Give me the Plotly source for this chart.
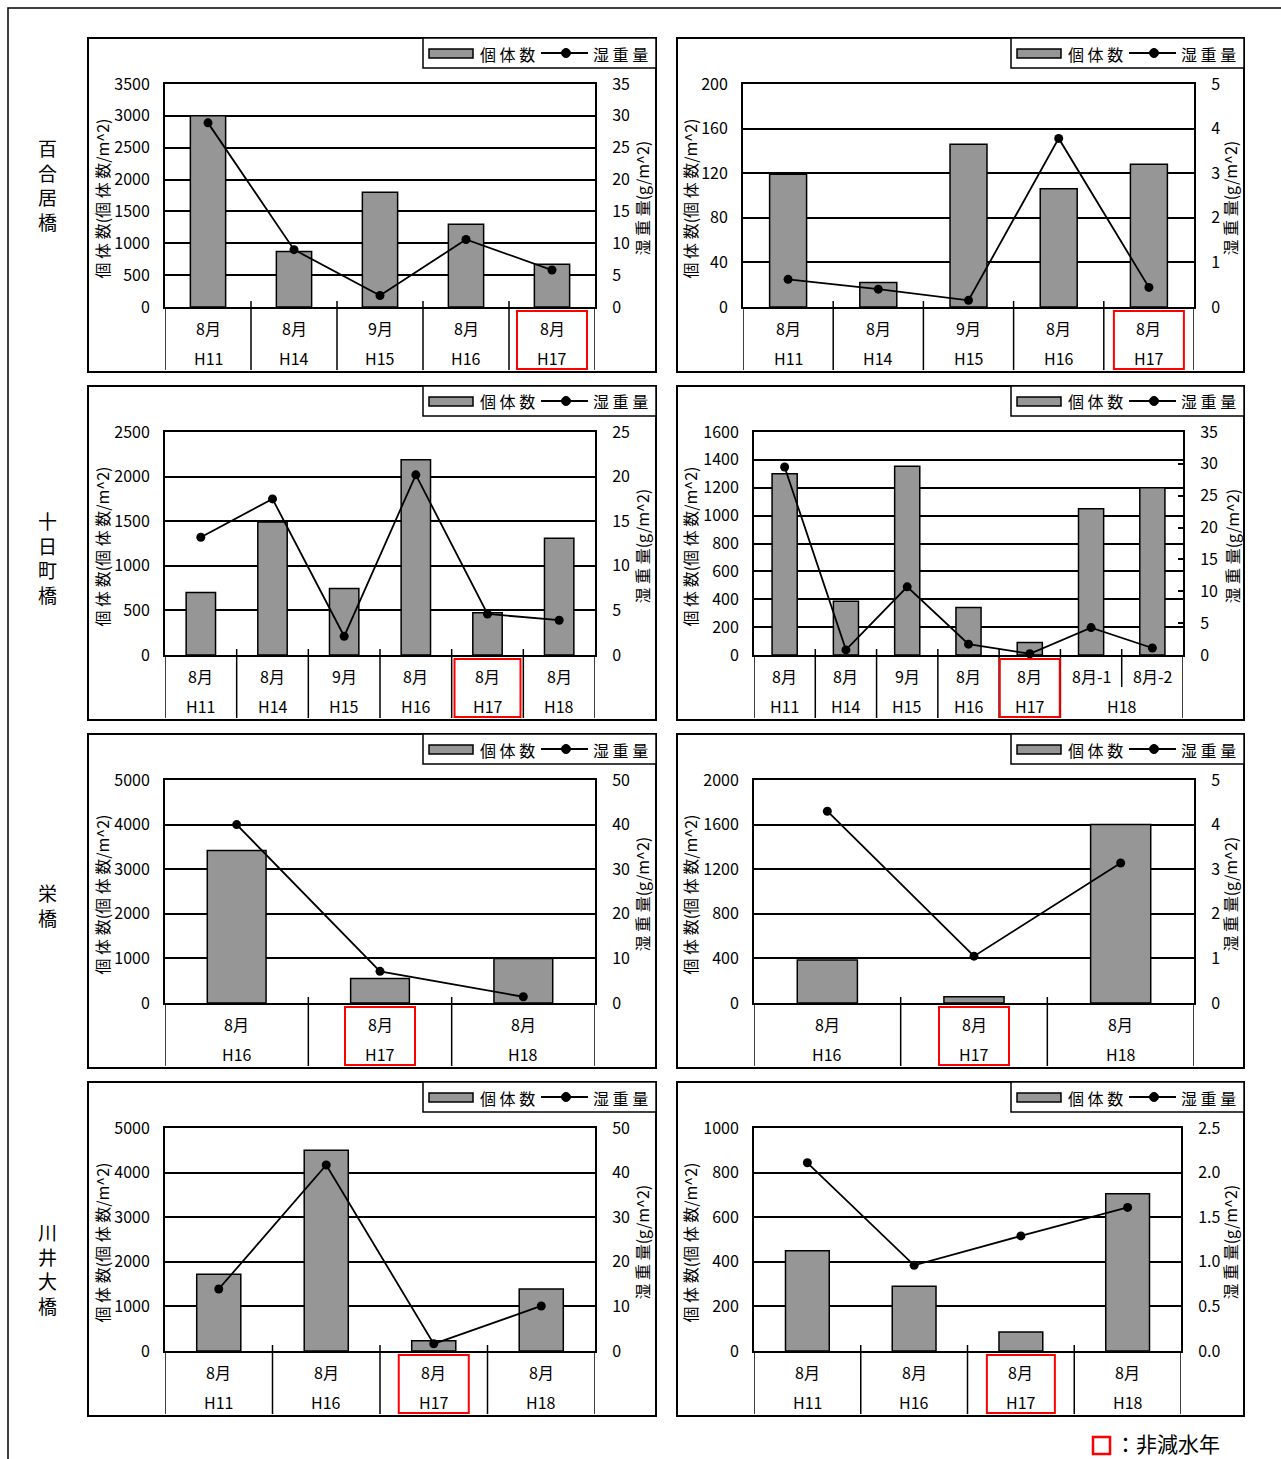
import plotly.graph_objects as go

# ---------------- data ----------------
stations = ["百合居橋", "十日町橋", "栄橋", "川井大橋"]
non_drawdown_year = "H17"

# 百合居橋 (left / right)
p1_months = ["8月", "8月", "9月", "8月", "8月"]
p1_years = ["H11", "H14", "H15", "H16", "H17"]
p1_count = [3000, 870, 1800, 1300, 670]
p1_wet = [28.9, 9.0, 1.8, 10.6, 5.8]

p2_months = ["8月", "8月", "9月", "8月", "8月"]
p2_years = ["H11", "H14", "H15", "H16", "H17"]
p2_count = [119, 22, 146, 106, 128]
p2_wet = [0.62, 0.40, 0.15, 3.78, 0.44]

# 十日町橋
p3_months = ["8月", "8月", "9月", "8月", "8月", "8月"]
p3_years = ["H11", "H14", "H15", "H16", "H17", "H18"]
p3_count = [700, 1490, 745, 2190, 475, 1310]
p3_wet = [13.2, 17.5, 2.1, 20.2, 4.6, 3.9]

p4_months = ["8月", "8月", "9月", "8月", "8月", "8月-1", "8月-2"]
p4_years = ["H11", "H14", "H15", "H16", "H17", "H18", "H18"]
p4_count = [1300, 385, 1355, 340, 90, 1050, 1200]
p4_wet = [29.5, 0.8, 10.7, 1.7, 0.2, 4.3, 1.1]

# 栄橋
p5_months = ["8月", "8月", "8月"]
p5_years = ["H16", "H17", "H18"]
p5_count = [3420, 550, 1000]
p5_wet = [40.0, 7.1, 1.4]

p6_months = ["8月", "8月", "8月"]
p6_years = ["H16", "H17", "H18"]
p6_count = [385, 55, 1600]
p6_wet = [4.30, 1.05, 3.14]

# 川井大橋
p7_months = ["8月", "8月", "8月", "8月"]
p7_years = ["H11", "H16", "H17", "H18"]
p7_count = [1720, 4500, 230, 1390]
p7_wet = [13.9, 41.7, 1.6, 10.1]

p8_months = ["8月", "8月", "8月", "8月"]
p8_years = ["H11", "H16", "H17", "H18"]
p8_count = [450, 290, 85, 705]
p8_wet = [2.11, 0.96, 1.29, 1.61]

# axis maxima and steps: (個体数 axis, 湿重量 axis)
count_scales = [(3500, 500), (200, 40), (2500, 500), (1600, 200),
                (5000, 1000), (2000, 400), (5000, 1000), (1000, 200)]
wet_scales = [(35, 5), (5, 1), (25, 5), (35, 5),
              (50, 10), (5, 1), (50, 10), (2.5, 0.5)]

legend_count = "個 体 数"
legend_wet = "湿 重 量"
title_count = "個 体 数(個 体 数/m^2)"
title_wet = "湿 重 量(g/m^2)"
footnote = "：非減水年"

# ---------------- layout geometry (pixels) ----------------
W, H = 1281, 1459
FONT = "Noto Sans CJK JP"
BAR_GRAY = "#969696"


def px(x):
    return x / W


def py(y):
    return 1 - y / H


panels = [
    (p1_months, p1_years, p1_count, p1_wet),
    (p2_months, p2_years, p2_count, p2_wet),
    (p3_months, p3_years, p3_count, p3_wet),
    (p4_months, p4_years, p4_count, p4_wet),
    (p5_months, p5_years, p5_count, p5_wet),
    (p6_months, p6_years, p6_count, p6_wet),
    (p7_months, p7_years, p7_count, p7_wet),
    (p8_months, p8_years, p8_count, p8_wet),
]

# plot-area x extents per panel
plot_x = [(165, 595), (743, 1194), (165, 595), (754, 1183),
          (165, 595), (754, 1194), (165, 595), (754, 1181)]
box_x = [(88, 656), (677, 1244)]
left_title_x = [101, 689]
right_title_x = [641, 1229, 641, 1231, 641, 1229, 641, 1229]
red_half = [35, 35, 33, 30, 35, 35, 35, 34]
ROW_STEP = 348
station_center_y = [185, 558, 905, 1268]

fig = go.Figure()
shapes = []
annotations = []

# outer frame
shapes.append(dict(type="rect", xref="paper", yref="paper",
                   x0=px(8), x1=px(1300), y0=py(8), y1=py(1480),
                   line=dict(color="black", width=1.5), layer="below"))

for k, (months, years, count, wet) in enumerate(panels):
    r, c = divmod(k, 2)
    n = len(months)
    xn = "x" if k == 0 else f"x{k + 1}"
    yl = f"y{2 * k + 1}" if k > 0 else "y"
    yr = f"y{2 * k + 2}"
    xkey = "xaxis" if k == 0 else f"xaxis{k + 1}"
    ylkey = "yaxis" if k == 0 else f"yaxis{2 * k + 1}"
    yrkey = f"yaxis{2 * k + 2}"

    top = 84 + ROW_STEP * r
    base = 307 + ROW_STEP * r
    btop = 38 + ROW_STEP * r
    bbot = 372 + ROW_STEP * r
    x0, x1 = plot_x[k]
    bx0, bx1 = box_x[c]
    cats = [f"{m} {y}" for m, y in zip(months, years)]

    fig.add_trace(go.Bar(x=cats, y=count, xaxis=xn, yaxis=yl,
                         marker=dict(color=BAR_GRAY,
                                     line=dict(color="black", width=1.5)),
                         name="個体数", showlegend=False))
    fig.add_trace(go.Scatter(x=cats, y=wet, xaxis=xn, yaxis=yr,
                             mode="lines+markers", cliponaxis=False,
                             line=dict(color="black", width=1.8),
                             marker=dict(color="black", size=9),
                             name="湿重量", showlegend=False))

    cmax, cstep = count_scales[k]
    wmax, wstep = wet_scales[k]
    tickfont = dict(family=FONT, size=16, color="black")

    fig.layout[xkey] = dict(domain=[px(x0), px(x1)], anchor=yl,
                            type="category", range=[-0.5, n - 0.5],
                            showticklabels=False, ticks="", showgrid=False,
                            showline=True, linecolor="black", linewidth=2,
                            mirror=True, zeroline=False, fixedrange=True)
    fig.layout[ylkey] = dict(domain=[py(base), py(top)], anchor=xn,
                             range=[0, cmax], tick0=0, dtick=cstep,
                             showgrid=True, gridcolor="black", gridwidth=1.5,
                             showline=True, linecolor="black", linewidth=2,
                             zeroline=False, ticks="", ticklabelstandoff=10,
                             tickfont=tickfont, fixedrange=True)
    fig.layout[yrkey] = dict(overlaying=yl, side="right", anchor=xn,
                             range=[0, wmax], tick0=0, dtick=wstep,
                             tickformat=".1f" if wstep < 1 else "d",
                             showgrid=False, showline=True, linecolor="black",
                             linewidth=2, zeroline=False, ticks="inside",
                             ticklen=5, tickwidth=1.5, tickcolor="black",
                             ticklabelstandoff=12, tickfont=tickfont,
                             fixedrange=True)

    # panel frame
    shapes.append(dict(type="rect", xref="paper", yref="paper",
                       x0=px(bx0), x1=px(bx1), y0=py(btop), y1=py(bbot),
                       line=dict(color="black", width=2)))

    # category table: separators and two-row labels
    for i in range(n + 1):
        same_year = 0 < i < n and years[i - 1] == years[i]
        y_end = base + 32 if same_year else bbot - 2
        y_start = base if i in (0, n) else base - 6
        shapes.append(dict(type="line", xref=xn, yref="paper",
                           x0=i - 0.5, x1=i - 0.5, y0=py(y_start), y1=py(y_end),
                           line=dict(color="black", width=1.5)))
    for i, m in enumerate(months):
        annotations.append(dict(xref=xn, yref="paper", x=i, y=py(base + 21),
                                text=m, showarrow=False, xanchor="center",
                                yanchor="middle",
                                font=dict(family=FONT, size=16, color="black")))
    i = 0
    while i < n:
        j = i
        while j + 1 < n and years[j + 1] == years[i]:
            j += 1
        annotations.append(dict(xref=xn, yref="paper", x=(i + j) / 2,
                                y=py(base + 51), text=years[i],
                                showarrow=False, xanchor="center",
                                yanchor="middle",
                                font=dict(family=FONT, size=16, color="black")))
        if years[i] == non_drawdown_year:
            shapes.append(dict(type="rect", xref=xn, xsizemode="pixel",
                               xanchor=(i + j) / 2, x0=-red_half[k],
                               x1=red_half[k], yref="paper",
                               y0=py(base + 4), y1=py(bbot - 3),
                               line=dict(color="#ff0000", width=2)))
        i = j + 1

    # axis titles
    mid = (top + base) / 2 + 3
    annotations.append(dict(xref="paper", yref="paper", x=px(left_title_x[c]),
                            y=py(mid), text=title_count, textangle=-90,
                            showarrow=False, xanchor="center", yanchor="middle",
                            font=dict(family=FONT, size=16, color="black")))
    annotations.append(dict(xref="paper", yref="paper", x=px(right_title_x[k]),
                            y=py(mid), text=title_wet, textangle=-90,
                            showarrow=False, xanchor="center", yanchor="middle",
                            font=dict(family=FONT, size=16, color="black")))

    # legend box
    L = bx1 - 233
    shapes.append(dict(type="rect", xref="paper", yref="paper",
                       x0=px(L), x1=px(bx1), y0=py(btop), y1=py(btop + 30),
                       fillcolor="white", line=dict(color="black", width=1.5)))
    shapes.append(dict(type="rect", xref="paper", yref="paper",
                       x0=px(L + 6), x1=px(L + 50), y0=py(btop + 11),
                       y1=py(btop + 20), fillcolor=BAR_GRAY,
                       line=dict(color="black", width=1.5)))
    annotations.append(dict(xref="paper", yref="paper", x=px(L + 55),
                            y=py(btop + 15.5), text=legend_count,
                            showarrow=False, xanchor="left", yanchor="middle",
                            font=dict(family=FONT, size=16, color="black")))
    shapes.append(dict(type="line", xref="paper", yref="paper",
                       x0=px(L + 118), x1=px(L + 165), y0=py(btop + 15),
                       y1=py(btop + 15), line=dict(color="black", width=1.8)))
    shapes.append(dict(type="circle", xref="paper", yref="paper",
                       x0=px(L + 138.5), x1=px(L + 147.5), y0=py(btop + 10.5),
                       y1=py(btop + 19.5), fillcolor="black",
                       line=dict(color="black", width=1)))
    annotations.append(dict(xref="paper", yref="paper", x=px(L + 168),
                            y=py(btop + 15.5), text=legend_wet,
                            showarrow=False, xanchor="left", yanchor="middle",
                            font=dict(family=FONT, size=16, color="black")))

# station names, one character per line
for name, yc in zip(stations, station_center_y):
    annotations.append(dict(xref="paper", yref="paper", x=px(47), y=py(yc),
                            text="<br>".join(name), showarrow=False,
                            xanchor="center", yanchor="middle", align="center",
                            font=dict(family=FONT, size=19, color="black")))

# footnote
shapes.append(dict(type="rect", xref="paper", yref="paper",
                   x0=px(1093), x1=px(1110), y0=py(1437), y1=py(1454),
                   line=dict(color="#ff0000", width=2.5)))
annotations.append(dict(xref="paper", yref="paper", x=px(1114), y=py(1443),
                        text=footnote, showarrow=False, xanchor="left",
                        yanchor="middle", borderpad=0,
                        font=dict(family=FONT, size=21, color="black")))

fig.update_layout(width=W, height=H, autosize=False,
                  margin=dict(l=0, r=0, t=0, b=0, pad=0, autoexpand=False),
                  paper_bgcolor="white", plot_bgcolor="white",
                  bargap=0.59, showlegend=False,
                  shapes=shapes, annotations=annotations,
                  font=dict(family=FONT, color="black"))

fig.write_html("out.html")
